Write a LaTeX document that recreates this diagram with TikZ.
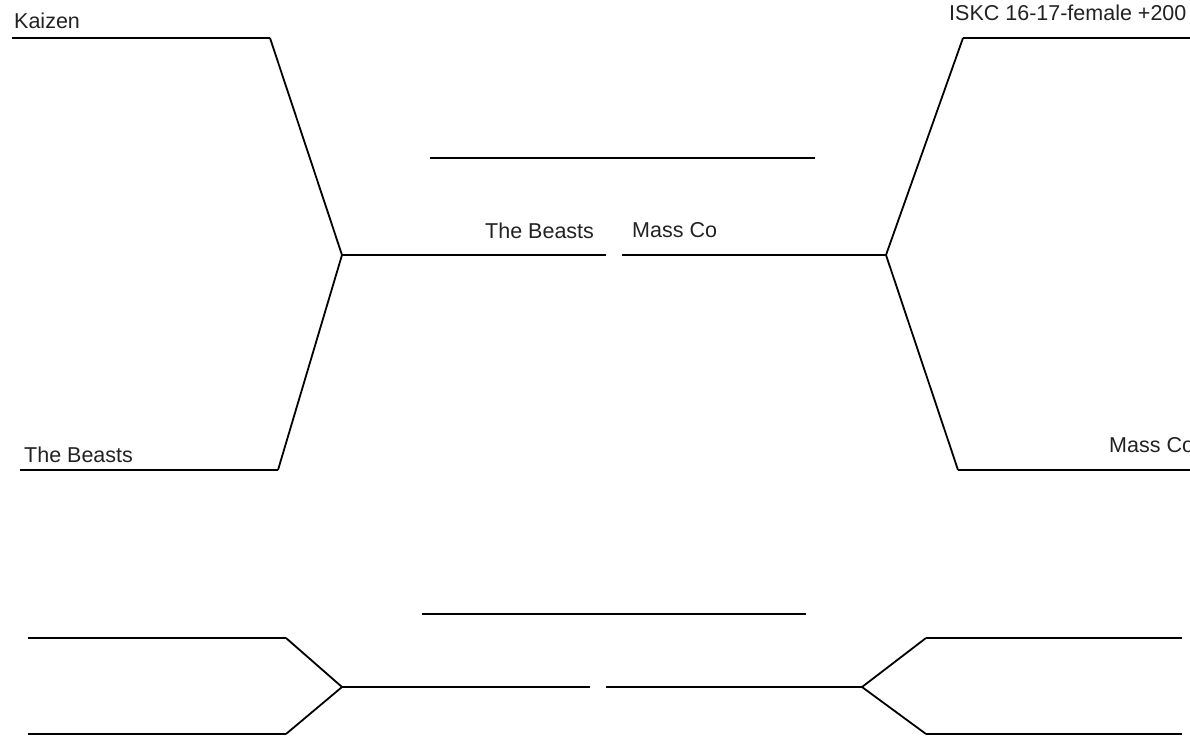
\documentclass[tikz,border=0pt]{standalone}
\usepackage{fontspec}
\setmainfont{Liberation Sans}
\usetikzlibrary{positioning}
\definecolor{ink}{HTML}{000000}
\definecolor{label}{HTML}{222222}
\tikzset{
  slot/.style={draw=ink,line width=2.8pt},
  joint/.style={draw=ink,line width=1.8pt},
  team/.style={font=\fontsize{21.5}{25}\selectfont,text=label,inner sep=0pt,anchor=base west}
}
\begin{document}
\begin{tikzpicture}[x=1pt,y=-1pt]
  \useasboundingbox (0,0) rectangle (1190,736);
  \clip (0,0) rectangle (1190,736);

  % upper bracket
  \coordinate (qA0) at (12,38);   \coordinate (qA1) at (270,38);
  \coordinate (qB0) at (20,470);  \coordinate (qB1) at (278,470);
  \coordinate (sL0) at (342,255); \coordinate (sL1) at (606,255);
  \coordinate (sR0) at (622,255); \coordinate (sR1) at (886,255);
  \coordinate (qC0) at (963,38);  \coordinate (qC1) at (1190,38);
  \coordinate (qD0) at (958,470); \coordinate (qD1) at (1190,470);
  \coordinate (fin0) at (430,158); \coordinate (fin1) at (815,158);

  \draw[slot] (qA0) -- (qA1);
  \draw[slot] (qB0) -- (qB1);
  \draw[slot] (sL0) -- (sL1);
  \draw[slot] (sR0) -- (sR1);
  \draw[slot] (qC0) -- (qC1);
  \draw[slot] (qD0) -- (qD1);
  \draw[slot] (fin0) -- (fin1);
  \draw[joint] (qA1) -- (sL0) -- (qB1);
  \draw[joint] (qC0) -- (sR1) -- (qD0);

  \node[team] (kaizen) at (14,28) {Kaizen};
  \node[team] (iskc) at (949,20) {ISKC 16-17-female +200};
  \node[team] (beastsQ) at (24,462) {The Beasts};
  \node[team] (massQ) at (1109,452) {Mass Co};
  \node[team] (beastsS) at (485,238) {The Beasts};
  \node[team] (massS) at (632,237) {Mass Co};

  % lower bracket
  \coordinate (pA0) at (28,638);   \coordinate (pA1) at (286,638);
  \coordinate (pB0) at (28,734);   \coordinate (pB1) at (286,734);
  \coordinate (tL0) at (342,687);  \coordinate (tL1) at (590,687);
  \coordinate (tR0) at (606,687);  \coordinate (tR1) at (862,687);
  \coordinate (pC0) at (926,638);  \coordinate (pC1) at (1182,638);
  \coordinate (pD0) at (926,734);  \coordinate (pD1) at (1182,734);
  \coordinate (third0) at (422,614); \coordinate (third1) at (806,614);

  \draw[slot] (pA0) -- (pA1);
  \draw[slot] (pB0) -- (pB1);
  \draw[slot] (tL0) -- (tL1);
  \draw[slot] (tR0) -- (tR1);
  \draw[slot] (pC0) -- (pC1);
  \draw[slot] (pD0) -- (pD1);
  \draw[slot] (third0) -- (third1);
  \draw[joint] (pA1) -- (tL0) -- (pB1);
  \draw[joint] (pC0) -- (tR1) -- (pD0);
\end{tikzpicture}
\end{document}
